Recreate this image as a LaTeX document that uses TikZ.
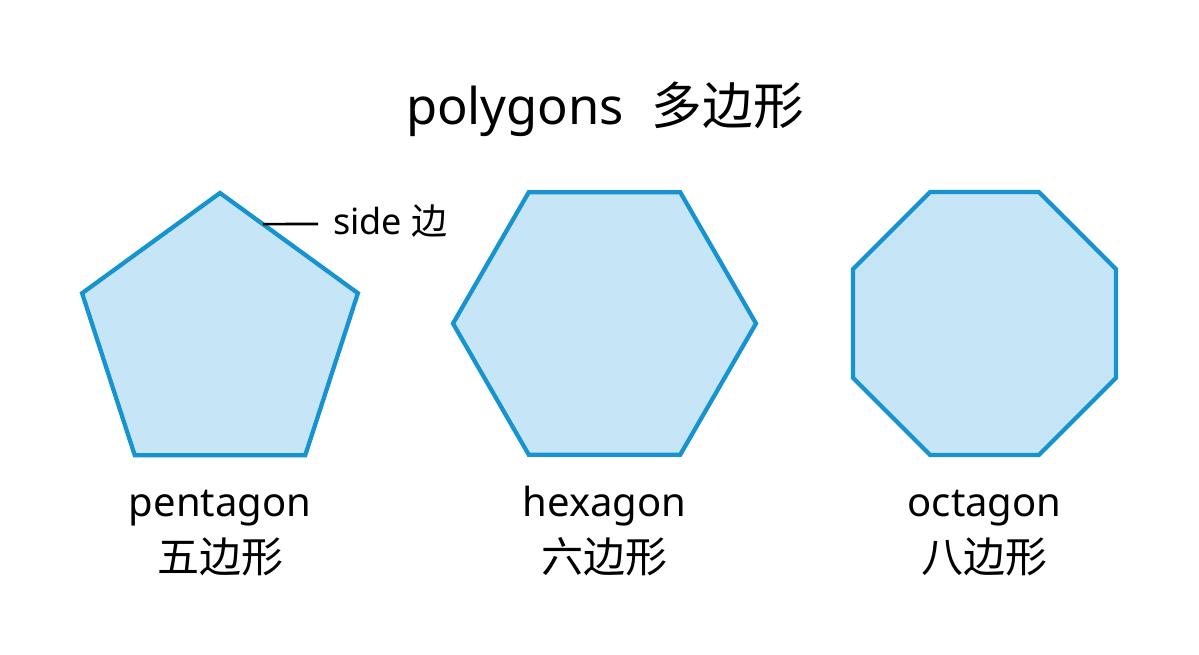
\documentclass[tikz,border=0pt]{standalone}
\usepackage{fontspec}
\setmainfont{Noto Sans}
\newfontfamily\cjk{Noto Sans CJK SC}
\usetikzlibrary{calc}
\definecolor{polyline}{HTML}{1794CF}
\definecolor{polyfill}{HTML}{C6E5F7}
\begin{document}
\begin{tikzpicture}[x=0.75pt,y=0.75pt,
  poly/.style={draw=polyline,fill=polyfill,line width=3.2pt,line join=miter},
  title/.style={anchor=base,inner sep=0pt,font=\fontsize{38}{42}\selectfont},
  lat/.style={anchor=base,inner sep=0pt,font=\fontsize{30}{34}\selectfont},
  zh/.style={anchor=base,inner sep=0pt,font=\cjk\fontsize{31.5}{34}\selectfont},
  sidelbl/.style={anchor=base west,inner sep=0pt,font=\fontsize{27}{30}\selectfont},
  leader/.style={draw=black,line width=2pt}]
\path[use as bounding box,fill=white] (0,0) rectangle (1199,655);

% title
\node[title] (title) at (605,530) {polygons\hspace{0.55em}{\cjk 多边形}};

% pentagon
\coordinate (pc) at (220,317);
\foreach \i/\a in {1/90,2/162,3/234,4/306,5/18} \coordinate (p\i) at ($(pc)+(\a:145)$);
\draw[poly] (p1) -- (p2) -- (p3) -- (p4) -- (p5) -- cycle;
% hexagon
\coordinate (hc) at (604.5,331.5);
\foreach \i/\a in {1/0,2/60,3/120,4/180,5/240,6/300} \coordinate (h\i) at ($(hc)+(\a:151.5)$);
\draw[poly] (h1) -- (h2) -- (h3) -- (h4) -- (h5) -- (h6) -- cycle;
% octagon
\coordinate (oc) at (984.5,331.5);
\foreach \i/\a in {1/22.5,2/67.5,3/112.5,4/157.5,5/202.5,6/247.5,7/292.5,8/337.5} \coordinate (o\i) at ($(oc)+(\a:142.3)$);
\draw[poly] (o1) -- (o2) -- (o3) -- (o4) -- (o5) -- (o6) -- (o7) -- (o8) -- cycle;

% side label
\coordinate (sideA) at ($(p1)!0.311!(p5)$);
\node[sidelbl] (side) at (333,420) {side {\cjk 边}};
\coordinate (sideB) at (318,431);
\draw[leader] (sideA) -- (sideB);

% labels
\node[lat] (pen) at (220,138) {pentagon};
\node[zh] (penzh) at (220,82) {五边形};
\node[lat] (hex) at (604.5,138) {hexagon};
\node[zh] (hexzh) at (604.5,82) {六边形};
\node[lat] (oct) at (984.5,138) {octagon};
\node[zh] (octzh) at (984.5,82) {八边形};
\end{tikzpicture}
\end{document}
